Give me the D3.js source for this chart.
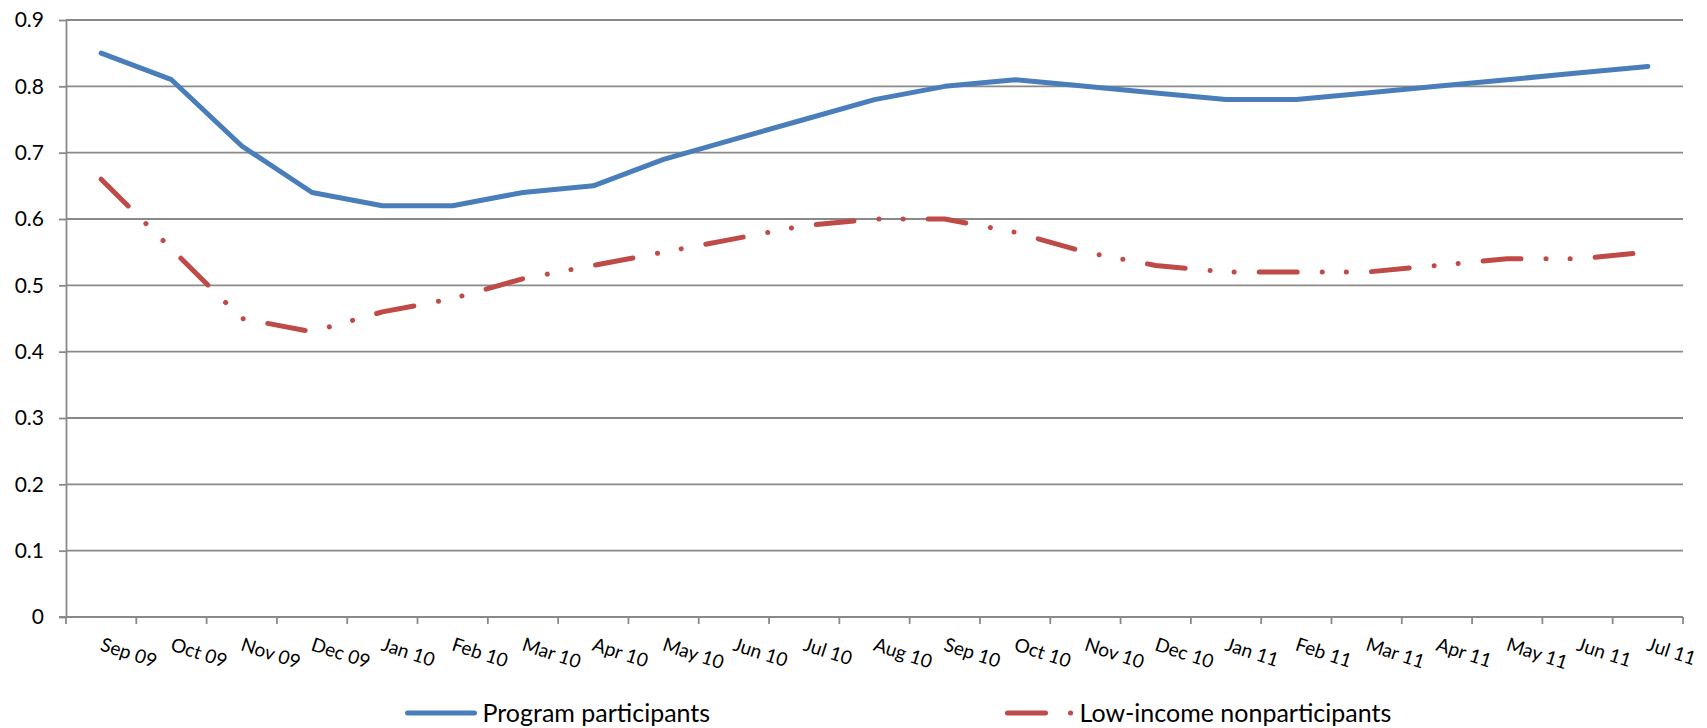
<!DOCTYPE html>
<html>
<head>
<meta charset="utf-8">
<script src="https://cdn.jsdelivr.net/npm/d3@7"></script>
<style>
  body { margin: 0; background: #fff; }
  text { font-family: Lato, "Open Sans", sans-serif; fill: #000; }
</style>
</head>
<body>
<div id="chart"></div>
<script>
// data
var months = ["Sep 09","Oct 09","Nov 09","Dec 09","Jan 10","Feb 10","Mar 10","Apr 10",
              "May 10","Jun 10","Jul 10","Aug 10","Sep 10","Oct 10","Nov 10","Dec 10",
              "Jan 11","Feb 11","Mar 11","Apr 11","May 11","Jun 11","Jul 11"];
var participants = [0.85,0.81,0.71,0.64,0.62,0.62,0.64,0.65,0.69,0.72,0.75,0.78,
                    0.80,0.81,0.80,0.79,0.78,0.78,0.79,0.80,0.81,0.82,0.83];
var nonparticipants = [0.66,0.555,0.45,0.43,0.46,0.48,0.51,0.53,0.55,0.57,0.59,0.60,
                       0.60,0.58,0.55,0.53,0.52,0.52,0.52,0.53,0.54,0.54,0.55];
var yTicks = [0,0.1,0.2,0.3,0.4,0.5,0.6,0.7,0.8,0.9];
var seriesNames = ["Program participants","Low-income nonparticipants"];

var W = 1707, H = 728;
var margin = {top: 20, right: 24, bottom: 111, left: 66};
var gridColor = "#898989";
var blue = "#4a7ebb", red = "#be4b48";
var dashDot = "38,25,0.1,24,0.1,25";

var svg = d3.select("#chart")
  .append("svg")
    .attr("width", W)
    .attr("height", H);

var x = d3.scaleBand()
  .domain(months)
  .range([margin.left, W - margin.right])
  .padding(0);

var y = d3.scaleLinear()
  .domain([0, 0.9])
  .range([H - margin.bottom, margin.top]);

function cx(d) { return x(d) + x.bandwidth() / 2; }

// horizontal gridlines
svg.append("g")
  .selectAll("line")
  .data(yTicks.slice(1))
  .enter()
  .append("line")
    .attr("x1", x.range()[0])
    .attr("x2", x.range()[1])
    .attr("y1", function(d) { return y(d); })
    .attr("y2", function(d) { return y(d); })
    .attr("stroke", gridColor)
    .attr("stroke-width", 1.8);

// Y axis
var yAxis = svg.append("g")
  .attr("transform", "translate(" + x.range()[0] + ",0)")
  .call(d3.axisLeft(y).tickValues(yTicks).tickSizeInner(7).tickSizeOuter(0).tickPadding(15)
        .tickFormat(function(d) { return d === 0 ? "0" : d3.format(".1f")(d); }));
yAxis.selectAll("path, line").attr("stroke", gridColor).attr("stroke-width", 1.8);
yAxis.selectAll("text").style("font-size", "21px").attr("fill", "#000");

// X axis: line, tick marks between categories, rotated labels
var x0 = y(0);
svg.append("line")
  .attr("x1", x.range()[0] - 7).attr("x2", x.range()[1])
  .attr("y1", x0).attr("y2", x0)
  .attr("stroke", gridColor).attr("stroke-width", 1.8);

svg.append("g")
  .selectAll("line")
  .data(d3.range(months.length + 1))
  .enter()
  .append("line")
    .attr("x1", function(i) { return x.range()[0] + i * x.step(); })
    .attr("x2", function(i) { return x.range()[0] + i * x.step(); })
    .attr("y1", x0)
    .attr("y2", x0 + 7)
    .attr("stroke", gridColor)
    .attr("stroke-width", 1.8);

svg.append("g")
  .selectAll("text")
  .data(months)
  .enter()
  .append("text")
    .attr("transform", function(d) { return "translate(" + (cx(d) - 2) + "," + (x0 + 33) + ") rotate(18)"; })
    .attr("text-anchor", "start")
    .style("font-size", "19px")
    .text(function(d) { return d; });

// lines
var line = d3.line()
  .x(function(d, i) { return cx(months[i]); })
  .y(function(d) { return y(d); });

svg.append("path")
  .datum(participants)
  .attr("d", line)
  .attr("fill", "none")
  .attr("stroke", blue)
  .attr("stroke-width", 5)
  .attr("stroke-linejoin", "round")
  .attr("stroke-linecap", "round");

svg.append("path")
  .datum(nonparticipants)
  .attr("d", line)
  .attr("fill", "none")
  .attr("stroke", red)
  .attr("stroke-width", 5)
  .attr("stroke-linejoin", "round")
  .attr("stroke-linecap", "round")
  .attr("stroke-dasharray", dashDot);

// legend
var legY = 713;
var legend = [
  {name: seriesNames[0], color: blue, dash: null, x: 407.5, len: 67},
  {name: seriesNames[1], color: red, dash: dashDot, x: 1007.5, len: 64}
];
var lg = svg.append("g")
  .selectAll("g")
  .data(legend)
  .enter()
  .append("g");

lg.append("line")
  .attr("x1", function(d) { return d.x; })
  .attr("x2", function(d) { return d.x + d.len; })
  .attr("y1", legY).attr("y2", legY)
  .attr("stroke", function(d) { return d.color; })
  .attr("stroke-width", 5)
  .attr("stroke-linecap", "round")
  .attr("stroke-dasharray", function(d) { return d.dash; });

lg.append("text")
  .attr("x", function(d) { return d.x + d.len + 8; })
  .attr("y", legY + 8.5)
  .style("font-size", "25px")
  .text(function(d) { return d.name; });
</script>
</body>
</html>
